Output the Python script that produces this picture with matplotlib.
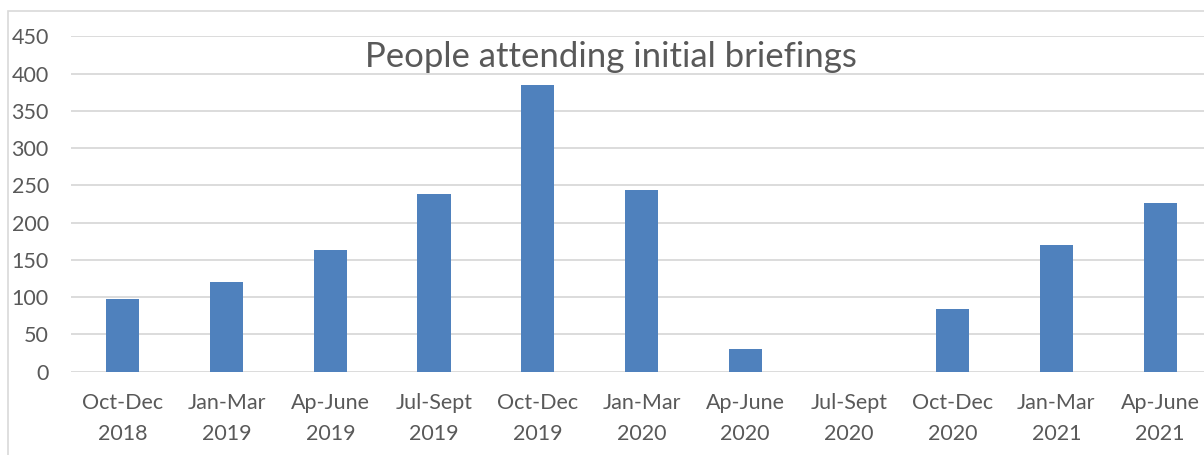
import matplotlib
matplotlib.use("Agg")
import matplotlib.pyplot as plt
from matplotlib.patches import Rectangle

quarters = ["Oct-Dec\n2018", "Jan-Mar\n2019", "Ap-June\n2019", "Jul-Sept\n2019",
            "Oct-Dec\n2019", "Jan-Mar\n2020", "Ap-June\n2020", "Jul-Sept\n2020",
            "Oct-Dec\n2020", "Jan-Mar\n2021", "Ap-June\n2021"]
attendees = [98, 121, 163, 239, 385, 244, 30, 0, 84, 170, 227]
yticks = [0, 50, 100, 150, 200, 250, 300, 350, 400, 450]

plt.rcParams['font.family'] = ['Lato', 'DejaVu Sans']
text_col = '#595959'
grid_col = '#D9D9D9'

fig = plt.figure(figsize=(12.04, 4.55), dpi=100)
# chart frame (image is cropped on right/bottom)
fig.patches.append(Rectangle((8 / 1204, -0.5), 2.0, 0.5 + (455 - 11) / 455,
                             transform=fig.transFigure, fill=False,
                             edgecolor=grid_col, linewidth=1.2, zorder=0))

ax = fig.add_axes([71 / 1204, 83.3 / 455, 1141 / 1204, 335.4 / 455])
x = range(len(quarters))
ax.bar(x, attendees, width=0.32, color='#4F81BD', zorder=3)
ax.set_xlim(-0.5, len(quarters) - 0.5)
ax.set_ylim(0, 450)
ax.set_yticks(yticks)
ax.set_xticks(list(x))
ax.set_xticklabels(quarters, linespacing=1.7)
ax.yaxis.grid(True, color=grid_col, linewidth=1.3, zorder=0)
ax.set_axisbelow(True)
for s in ax.spines.values():
    s.set_visible(False)
ax.tick_params(axis='both', length=0, labelsize=15.5, colors=text_col)
ax.tick_params(axis='y', pad=16)
ax.tick_params(axis='x', pad=15)

fig.text(611 / 1204, 1 - 57 / 455, "People attending initial briefings",
         ha='center', va='center', fontsize=25, color=text_col)

fig.savefig("out.png", dpi=100)
